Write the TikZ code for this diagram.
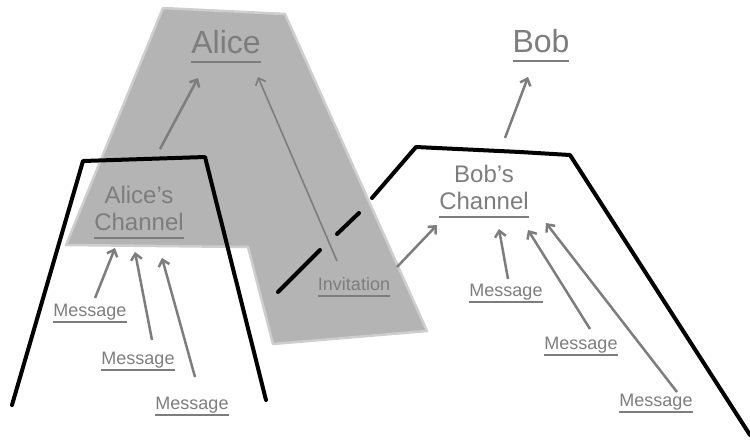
\documentclass[tikz,border=0pt]{standalone}
\usepackage{fontspec}
\setmainfont{Liberation Sans}
\usetikzlibrary{arrows.meta}

\definecolor{shade}{RGB}{180,180,180}
\definecolor{shadeedge}{RGB}{206,206,206}
\definecolor{txtgray}{RGB}{125,125,125}

\begin{document}
\begin{tikzpicture}[x=1pt,y=-1pt,
  lbl/.style={inner sep=0pt,outer sep=0pt,anchor=south,text=txtgray,
    append after command={(\tikzlastnode.south west) edge[draw=txtgray,line width=2pt] (\tikzlastnode.south east)}},
  msg/.style={lbl,text depth=6pt,font=\fontsize{18}{20}\selectfont},
  chan/.style={lbl,text depth=8pt,align=center,font=\fontsize{24}{27}\selectfont},
  user/.style={lbl,text depth=9pt,font=\fontsize{32}{36}\selectfont},
  arr/.style={draw=txtgray,line width=2.5pt,-{Straight Barb[length=6pt,width=11pt]}},
  wall/.style={draw=black,line width=4pt,line cap=round,line join=round}]

\useasboundingbox (0,0) rectangle (750,440);

% Shaded area of Alice
\filldraw[fill=shade,draw=shadeedge,line width=2.5pt,line join=round]
(163,8) -- (285,14) -- (427,331) -- (273,344) -- (248,247) -- (66,245) -- cycle;

% Channel walls
\draw[wall] (12,405) -- (83,161) -- (205,157) -- (266,400);
\draw[wall] (278,292) -- (320,250);
\draw[wall] (337,234) -- (359,213);
\draw[wall] (372,198) -- (416,147) -- (520,152) -- (570,155) -- (750,435);

% Parties
\node[user] (alice) at (226,62) {Alice};
\node[user] (bob) at (541,61) {Bob};

% Channels
\node[chan] (ach) at (139,238) {Alice’s\\Channel};
\node[chan] (bch) at (484,217) {Bob’s\\Channel};

% Invitation
\node[msg] (inv) at (354,296) {Invitation};

% Messages
\node[msg] (lm1) at (90,322) {Message};
\node[msg] (lm2) at (138,370) {Message};
\node[msg] (lm3) at (192,415) {Message};
\node[msg] (rm1) at (506,302) {Message};
\node[msg] (rm2) at (581,355) {Message};
\node[msg] (rm3) at (656,412) {Message};

% Arrows up to the parties
\draw[arr] ([shift={(21,-89)}]ach.south) -- ([shift={(-28,16)}]alice.south);
\draw[arr,line width=1.6pt] ([shift={(-17,-35)}]inv.south) -- ([shift={(32,15)}]alice.south);
\draw[arr] ([shift={(21,-79)}]bch.south) -- ([shift={(-13,16)}]bob.south);
\draw[arr] ([shift={(43,-29)}]inv.south) -- ([shift={(-47,8)}]bch.south);

% Arrows into the channels
\draw[arr] ([shift={(5,-24)}]lm1.south) -- ([shift={(-24,10)}]ach.south);
\draw[arr] ([shift={(14,-30)}]lm2.south) -- ([shift={(-4,14)}]ach.south);
\draw[arr] ([shift={(3,-38)}]lm3.south) -- ([shift={(23,20)}]ach.south);
\draw[arr] ([shift={(2,-23)}]rm1.south) -- ([shift={(15,12)}]bch.south);
\draw[arr] ([shift={(9,-26)}]rm2.south) -- ([shift={(44,13)}]bch.south);
\draw[arr] ([shift={(21,-20)}]rm3.south) -- ([shift={(62,6)}]bch.south);

\end{tikzpicture}
\end{document}
